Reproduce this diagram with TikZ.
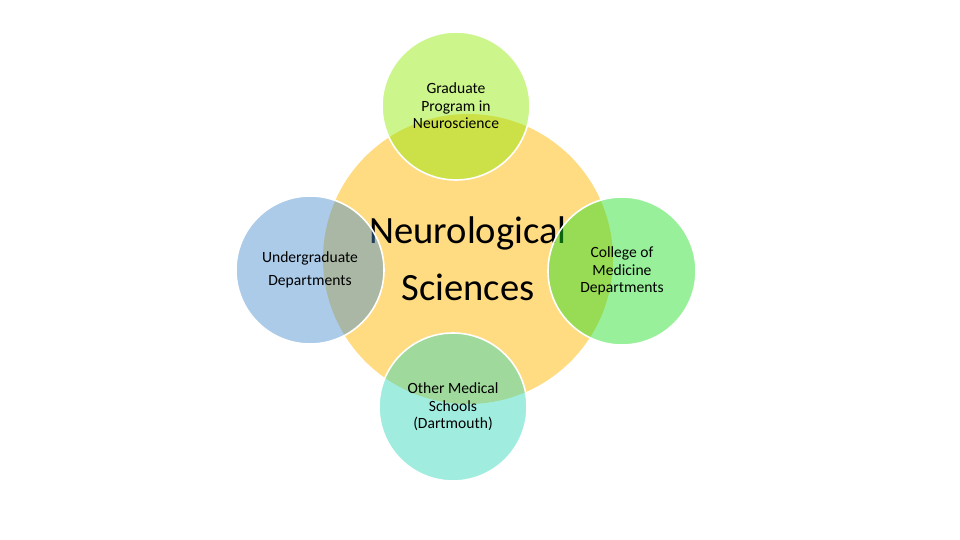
\documentclass[tikz,border=0pt]{standalone}
\usepackage{fontspec}
\setmainfont{Carlito}
\usepackage{xcolor}
\usepackage{tikz}
\usetikzlibrary{positioning}
\definecolor{sunyellow}{HTML}{FFDC82}
\definecolor{limegreen}{HTML}{8EE900}
\definecolor{skyblue}{HTML}{448BCE}
\definecolor{leafgreen}{HTML}{1BDE1F}
\definecolor{aquamint}{HTML}{2CD7BA}

\begin{document}
\begin{tikzpicture}[
  x=0.5pt,y=-0.5pt,
  hub/.style={circle,fill=sunyellow,minimum size=145pt,inner sep=0pt,
    align=center,font=\fontsize{19.3}{28.5}\selectfont},
  petal/.style={circle,draw=white,line width=0.8pt,fill opacity=0.45,
    text opacity=1,minimum size=74pt,inner sep=0pt,align=center,
    font=\fontsize{7.8}{8.8}\selectfont}
]
  \useasboundingbox (0,0) rectangle (960,540);
  \node[hub] (neuro) at (468,259) {Neurological\\Sciences};
  \node[petal,fill=limegreen] (grad) at (456,106) {Graduate\\Program in\\Neuroscience};
  \node[petal,fill=skyblue,font=\fontsize{7.8}{11.5}\selectfont] (undergrad) at (310,270) {Undergraduate\\Departments};
  \node[petal,fill=leafgreen] (medicine) at (622,271) {College of\\Medicine\\Departments};
  \node[petal,fill=aquamint] (other) at (453,407) {Other Medical\\Schools\\(Dartmouth)};
\end{tikzpicture}
\end{document}
